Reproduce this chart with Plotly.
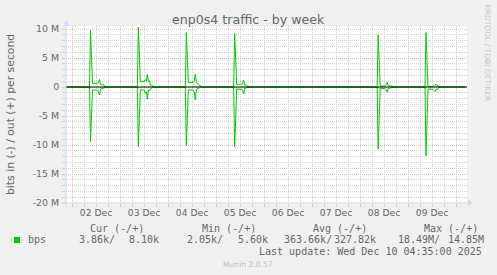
import plotly.graph_objects as go
from datetime import datetime, timedelta

# ---------------- data ----------------
title_text = "enp0s4 traffic - by week"
y_title = "bits in (-) / out (+) per second"
series_name = "bps"
watermark = "RRDTOOL / TOBI OETIKER"
footer = "Munin 2.0.57"
last_update = "Last update: Wed Dec 10 04:35:00 2025"

x_start = "2025-12-01 21:00"
x_end = "2025-12-10 05:30"

y_tickvals = [10e6, 5e6, 0, -5e6, -10e6, -15e6, -20e6]
y_ticktext = ["10 M", "5 M", "0", "-5 M", "-10 M", "-15 M", "-20 M"]

# spikes (values in Mbit/s)
spike_peaks = ["2025-12-02 09:15", "2025-12-03 09:10", "2025-12-04 09:10",
               "2025-12-05 09:20", "2025-12-08 09:05", "2025-12-09 09:00"]
spike_offsets_h = [-0.5, 0, 1, 2, 3, 3.5, 4, 4.5, 5, 5.5, 6, 6.5, 7, 8, 9]
out_spike1 = [0.02, 9.8, 0.62, 0.62, 0.63, 0.65, 0.9, 1.33, 0.45, 0.4, 0.35, 0.45, 0.12, 0.03, 0.01]
out_spike2 = [0.02, 10.3, 0.92, 0.92, 0.92, 1.3, 1.0, 2.2, 0.9, 1.1, 0.4, 0.3, 0.2, 0.05, 0.01]
out_spike3 = [0.02, 9.4, 0.75, 0.75, 0.75, 0.8, 1.1, 2.2, 0.75, 0.7, 0.4, 0.3, 0.1, 0.03, 0.01]
out_spike4 = [0.02, 9.25, 0.45, 0.45, 0.45, 0.5, 0.7, 1.2, 0.3, 0.35, 0.15, 0.1, 0.05, 0.02, 0.01]
out_spike5 = [0.02, 8.97, 0.15, 0.15, 0.15, 0.2, 0.4, 0.8, 0.25, 0.2, 0.15, 0.1, 0.1, 0.05, 0.01]
out_spike6 = [0.02, 9.4, 0.05, 0.05, 0.05, 0.1, 0.25, 0.46, 0.3, 0.35, 0.15, 0.1, 0.05, 0.02, 0.01]
in_spike1 = [0.02, 9.4, 0.52, 0.52, 0.53, 0.55, 0.9, 1.38, 0.35, 0.3, 0.2, 0.15, 0.05, 0.02, 0.01]
in_spike2 = [0.02, 10.3, 0.5, 0.5, 0.5, 1.1, 0.8, 2.1, 0.5, 0.7, 0.3, 0.2, 0.1, 0.03, 0.01]
in_spike3 = [0.02, 10.1, 0.5, 0.5, 0.5, 0.55, 1.0, 2.2, 0.4, 0.35, 0.2, 0.15, 0.05, 0.02, 0.01]
in_spike4 = [0.02, 10.3, 0.35, 0.35, 0.35, 0.4, 0.6, 1.2, 0.25, 0.3, 0.1, 0.08, 0.04, 0.02, 0.01]
in_spike5 = [0.02, 10.7, 0.2, 0.2, 0.2, 0.3, 0.5, 0.9, 0.25, 0.2, 0.2, 0.1, 0.05, 0.02, 0.01]
in_spike6 = [0.02, 11.9, 0.35, 0.35, 0.35, 0.4, 0.6, 0.8, 0.4, 0.45, 0.2, 0.1, 0.05, 0.02, 0.01]
out_spikes = [out_spike1, out_spike2, out_spike3, out_spike4, out_spike5, out_spike6]
in_spikes = [in_spike1, in_spike2, in_spike3, in_spike4, in_spike5, in_spike6]
baseline_start = "2025-12-01 21:00"
baseline_end = "2025-12-10 04:35"
baseline_M = 0.01

stat_headers = ["Cur (-/+)", "Min (-/+)", "Avg (-/+)", "Max (-/+)"]
stat_in = ["3.86k/", "2.05k/", "363.66k/", "18.49M/"]
stat_out = ["8.10k", "5.60k", "327.82k", "14.85M"]

# ---------------- build series ----------------
fmt = "%Y-%m-%d %H:%M"
times = [datetime.strptime(baseline_start, fmt)]
out_vals = [baseline_M]
in_vals = [baseline_M]
for peak, o_list, i_list in zip(spike_peaks, out_spikes, in_spikes):
    p = datetime.strptime(peak, fmt)
    for off, o, i in zip(spike_offsets_h, o_list, i_list):
        times.append(p + timedelta(hours=off))
        out_vals.append(o)
        in_vals.append(i)
times.append(datetime.strptime(baseline_end, fmt))
out_vals.append(baseline_M)
in_vals.append(baseline_M)

green = "#00CC00"
fig = go.Figure()
fig.add_trace(go.Scatter(x=times, y=[v * 1e6 for v in out_vals], mode="lines",
                         line=dict(color=green, width=1), showlegend=False, hoverinfo="skip"))
fig.add_trace(go.Scatter(x=times, y=[-v * 1e6 for v in in_vals], mode="lines",
                         line=dict(color=green, width=1), showlegend=False, hoverinfo="skip"))

# ---------------- layout ----------------
W, H = 497, 275
L, R, T, B = 66, 467, 26, 203


def px(xp):
    return (xp - L) / (R - L)


def py(yp):
    return (B - yp) / (B - T)


font_color = "#666666"
major = "#F5B8B8"
minor = "#D2D2D2"
axis_col = "#CFD6F8"
mono = "DejaVu Sans Mono"
sans = "DejaVu Sans"

fig.update_layout(
    width=W, height=H,
    margin=dict(l=L, r=W - R, t=T, b=H - B, pad=0),
    paper_bgcolor="#F0F0F0", plot_bgcolor="#FFFFFF",
    showlegend=False,
)
fig.update_xaxes(
    type="date", range=[x_start, x_end],
    tick0="2025-12-02", dtick=86400000, ticklabelmode="period", tickformat="%d %b",
    showgrid=True, gridcolor=major, griddash="1px,1px", gridwidth=1,
    ticks="outside", ticklen=3, tickcolor=major, ticklabelstandoff=-2,
    minor=dict(dtick=21600000, showgrid=True, gridcolor=minor, griddash="1px,1px",
               ticks="outside", ticklen=3, tickcolor=minor),
    tickfont=dict(family=sans, size=9.2, color=font_color),
    showline=False, zeroline=False, fixedrange=True,
)
fig.update_yaxes(
    range=[-20e6, 10.52e6],
    tickvals=y_tickvals, ticktext=y_ticktext,
    showgrid=True, gridcolor=major, griddash="1px,1px", gridwidth=1,
    ticks="outside", ticklen=3, tickcolor=major, ticklabelstandoff=1,
    minor=dict(dtick=1e6, showgrid=True, gridcolor=minor, griddash="1px,1px",
               ticks="outside", ticklen=3, tickcolor=minor),
    tickfont=dict(family=sans, size=9.4, color=font_color),
    showline=False, zeroline=False, fixedrange=True,
)

shapes = []
# zero rule
shapes.append(dict(type="line", xref="paper", yref="y", x0=0, x1=1, y0=0, y1=0,
                   line=dict(color="#000000", width=1), layer="above"))
# axes + arrows
shapes.append(dict(type="line", xref="paper", yref="paper", x0=px(66), x1=px(66),
                   y0=py(206), y1=py(24), line=dict(color=axis_col, width=1), layer="above"))
shapes.append(dict(type="line", xref="paper", yref="paper", x0=px(62), x1=px(469),
                   y0=py(203), y1=py(203), line=dict(color=axis_col, width=1), layer="above"))
shapes.append(dict(type="path", xref="paper", yref="paper",
                   path=f"M {px(63)} {py(26)} L {px(69.5)} {py(26)} L {px(66.3)} {py(20.5)} Z",
                   fillcolor=axis_col, line=dict(width=0), layer="above"))
shapes.append(dict(type="path", xref="paper", yref="paper",
                   path=f"M {px(468)} {py(199.5)} L {px(468)} {py(206)} L {px(473.5)} {py(202.8)} Z",
                   fillcolor=axis_col, line=dict(width=0), layer="above"))
# legend swatch
shapes.append(dict(type="rect", xref="paper", yref="paper", x0=px(14), x1=px(20),
                   y0=py(243), y1=py(237), fillcolor=green, line=dict(width=0)))
fig.update_layout(shapes=shapes)

ann = []


def text(t, x, y, size, family, color=font_color, xanchor="left", angle=0):
    ann.append(dict(text=t, x=px(x), y=py(y), xref="paper", yref="paper", showarrow=False,
                    xanchor=xanchor, yanchor="middle", textangle=angle,
                    font=dict(family=family, size=size, color=color), borderpad=0))


text(title_text, 248.5, 19.5, 12.6, sans, xanchor="center")
text(y_title, 11, 115, 10.8, sans, xanchor="center", angle=-90)
text(watermark, 487.5, 53, 7.5, sans, color="#C4C4C4", xanchor="center", angle=90)

header_x = [89, 201, 312.3, 422.7]
in_x = [77.7, 186, 283.3, 397.3]
out_x = [128.3, 237, 333.3, 447.3]
for h, x in zip(stat_headers, header_x):
    text(h, x, 228, 10, mono)
text(series_name, 26.7, 239.5, 10, mono)
for v, x in zip(stat_in, in_x):
    text(v, x, 239.5, 10, mono)
for v, x in zip(stat_out, out_x):
    text(v, x, 239.5, 10, mono)
text(last_update, 482.5, 251.5, 10, mono, xanchor="right")
text(footer, 248, 264.5, 7.6, sans, color="#BBBBBB", xanchor="center")

fig.update_layout(annotations=ann)
fig.write_html("out.html")
